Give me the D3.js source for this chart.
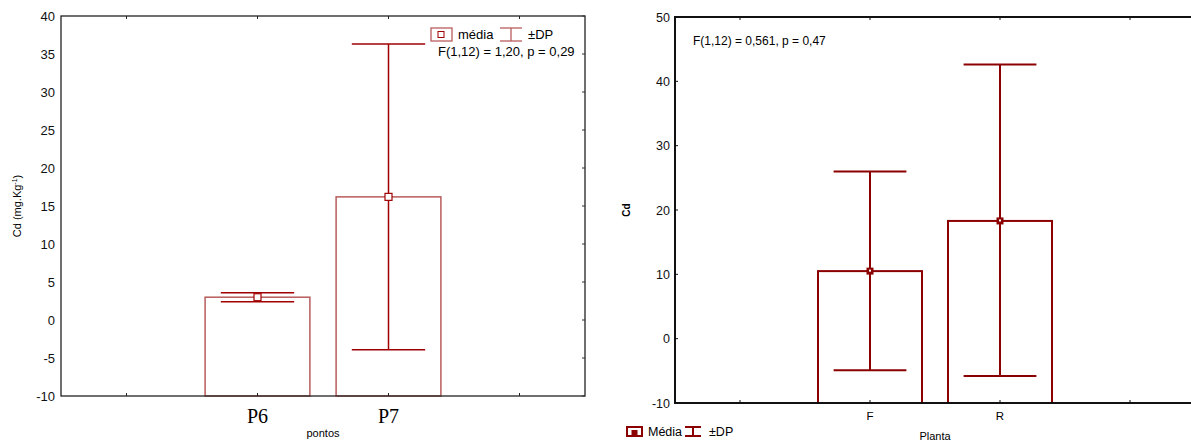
<!DOCTYPE html>
<html>
<head>
<meta charset="utf-8">
<script src="https://cdn.jsdelivr.net/npm/d3@7"></script>
<style>
  body { margin: 0; background: #fff; }
  text { font-family: Arial, "Liberation Sans", sans-serif; }
</style>
</head>
<body>
<div id="chart"></div>
<script>
// left panel: pontos
const leftCategories = ["P6", "P7"];
const leftMeans = [3.0, 16.2];
const leftSdLow = [2.4, -3.9];
const leftSdHigh = [3.6, 36.3];
const leftTicks = [-10, -5, 0, 5, 10, 15, 20, 25, 30, 35, 40];

// right panel: planta
const rightCategories = ["F", "R"];
const rightMeans = [10.5, 18.3];
const rightSdLow = [-4.9, -5.8];
const rightSdHigh = [26.0, 42.6];
const rightTicks = [-10, 0, 10, 20, 30, 40, 50];

const svg = d3.select("#chart").append("svg")
  .attr("width", 1191)
  .attr("height", 445);

drawLeft();
drawRight();

function drawLeft() {
  const X0 = 61, X1 = 585, Y0 = 16, Y1 = 396;
  const red = "#a00000", barCol = "#b85c5c";

  // category slots: one empty slot each side
  const x = d3.scaleLinear().domain([-1.5, 2.5]).range([X0, X1]);
  const y = d3.scaleLinear().domain([-10, 40]).range([Y1, Y0]);
  const slot = x(1) - x(0);
  const barW = slot * 0.8;
  const capW = slot * 0.56;

  const g = svg.append("g");

  // bars
  g.selectAll(".barL")
    .data(leftCategories)
    .enter()
    .append("rect")
    .attr("x", (d, i) => x(i) - barW / 2)
    .attr("y", (d, i) => y(leftMeans[i]))
    .attr("width", barW)
    .attr("height", (d, i) => y(-10) - y(leftMeans[i]))
    .attr("fill", "none")
    .attr("stroke", barCol)
    .attr("stroke-width", 1.5);

  // error bars
  leftCategories.forEach((c, i) => {
    const cx = x(i);
    g.append("line").attr("x1", cx).attr("x2", cx)
      .attr("y1", y(leftSdHigh[i])).attr("y2", y(leftSdLow[i]))
      .attr("stroke", red).attr("stroke-width", 1.5);
    [leftSdHigh[i], leftSdLow[i]].forEach(v => {
      g.append("line").attr("x1", cx - capW / 2).attr("x2", cx + capW / 2)
        .attr("y1", y(v)).attr("y2", y(v))
        .attr("stroke", red).attr("stroke-width", 1.5);
    });
    g.append("rect")
      .attr("x", cx - 3.5).attr("y", y(leftMeans[i]) - 3.5)
      .attr("width", 7).attr("height", 7)
      .attr("fill", "#fff").attr("stroke", red).attr("stroke-width", 1.2);
  });

  // frame
  g.append("rect").attr("x", X0).attr("y", Y0)
    .attr("width", X1 - X0).attr("height", Y1 - Y0)
    .attr("fill", "none").attr("stroke", "#222").attr("stroke-width", 1.3);

  // y axis
  const yAxis = g.append("g")
    .attr("transform", `translate(${X0},0)`)
    .call(d3.axisLeft(y).tickValues(leftTicks).tickFormat(d => String(d))
      .tickSize(0).tickPadding(6));
  yAxis.select(".domain").remove();
  yAxis.selectAll("text").attr("font-size", 13).attr("fill", "#111")
    .attr("font-family", "Arial, 'Liberation Sans', sans-serif");

  // right side inward ticks
  g.selectAll(".rt").data(leftTicks).enter().append("line")
    .attr("x1", X1 - 3).attr("x2", X1)
    .attr("y1", d => y(d)).attr("y2", d => y(d))
    .attr("stroke", "#333");

  // top / bottom ticks at slots
  [-1, 0, 1, 2].forEach(v => {
    g.append("line").attr("x1", x(v)).attr("x2", x(v))
      .attr("y1", Y0).attr("y2", Y0 + 3).attr("stroke", "#222");
    g.append("line").attr("x1", x(v)).attr("x2", x(v))
      .attr("y1", Y1 - 3).attr("y2", Y1).attr("stroke", "#222");
  });

  // category labels
  g.selectAll(".catL").data(leftCategories).enter().append("text")
    .attr("x", (d, i) => x(i)).attr("y", 423)
    .attr("text-anchor", "middle")
    .style("font-family", "'Liberation Serif', 'Times New Roman', serif")
    .attr("font-size", 20)
    .text(d => d);

  g.append("text").attr("x", (X0 + X1) / 2).attr("y", 437)
    .attr("text-anchor", "middle").attr("font-size", 11).text("pontos");

  const yl = g.append("text")
    .attr("transform", `translate(21,${(Y0 + Y1) / 2}) rotate(-90)`)
    .attr("text-anchor", "middle").attr("font-size", 11);
  yl.append("tspan").text("Cd (mg.Kg");
  yl.append("tspan").attr("font-size", 7).attr("dy", -4).text("-1");
  yl.append("tspan").attr("dy", 4).text(")");

  // legend
  g.append("rect").attr("x", 431).attr("y", 28).attr("width", 21).attr("height", 13)
    .attr("fill", "none").attr("stroke", barCol).attr("stroke-width", 1.3);
  g.append("rect").attr("x", 438).attr("y", 31.5).attr("width", 6).attr("height", 6)
    .attr("fill", "#fff").attr("stroke", red).attr("stroke-width", 1);
  g.append("text").attr("x", 458).attr("y", 39).attr("font-size", 13).text("média");
  g.append("line").attr("x1", 500).attr("x2", 522).attr("y1", 28).attr("y2", 28)
    .attr("stroke", barCol).attr("stroke-width", 1.3);
  g.append("line").attr("x1", 500).attr("x2", 522).attr("y1", 41).attr("y2", 41)
    .attr("stroke", barCol).attr("stroke-width", 1.3);
  g.append("line").attr("x1", 511).attr("x2", 511).attr("y1", 28).attr("y2", 41)
    .attr("stroke", barCol).attr("stroke-width", 1.3);
  g.append("text").attr("x", 528).attr("y", 39).attr("font-size", 13).text("±DP");
  g.append("text").attr("x", 438).attr("y", 56).attr("font-size", 13)
    .text("F(1,12) = 1,20, p = 0,29");
}

function drawRight() {
  const X0 = 675, X1 = 1195, Y0 = 17, Y1 = 403;
  const red = "#8b0000";

  const x = d3.scaleLinear().domain([-1.5, 2.5]).range([X0, X1]);
  const y = d3.scaleLinear().domain([-10, 50]).range([Y1, Y0]);
  const slot = x(1) - x(0);
  const barW = slot * 0.8;
  const capW = slot * 0.56;

  const g = svg.append("g");

  g.selectAll(".barR")
    .data(rightCategories)
    .enter()
    .append("rect")
    .attr("x", (d, i) => x(i) - barW / 2)
    .attr("y", (d, i) => y(rightMeans[i]))
    .attr("width", barW)
    .attr("height", (d, i) => y(-10) - y(rightMeans[i]))
    .attr("fill", "none")
    .attr("stroke", red)
    .attr("stroke-width", 2);

  rightCategories.forEach((c, i) => {
    const cx = x(i);
    g.append("line").attr("x1", cx).attr("x2", cx)
      .attr("y1", y(rightSdHigh[i])).attr("y2", y(rightSdLow[i]))
      .attr("stroke", red).attr("stroke-width", 2);
    [rightSdHigh[i], rightSdLow[i]].forEach(v => {
      g.append("line").attr("x1", cx - capW / 2).attr("x2", cx + capW / 2)
        .attr("y1", y(v)).attr("y2", y(v))
        .attr("stroke", red).attr("stroke-width", 2);
    });
    g.append("rect")
      .attr("x", cx - 3.5).attr("y", y(rightMeans[i]) - 3.5)
      .attr("width", 7).attr("height", 7)
      .attr("fill", red);
    g.append("rect")
      .attr("x", cx - 1).attr("y", y(rightMeans[i]) - 1.5)
      .attr("width", 2).attr("height", 2)
      .attr("fill", "#fff");
  });

  // frame
  g.append("rect").attr("x", X0).attr("y", Y0)
    .attr("width", X1 - X0).attr("height", Y1 - Y0)
    .attr("fill", "none").attr("stroke", "#111").attr("stroke-width", 2);

  const yAxis = g.append("g")
    .attr("transform", `translate(${X0},0)`)
    .call(d3.axisLeft(y).tickValues(rightTicks).tickFormat(d => String(d))
      .tickSize(0).tickPadding(5));
  yAxis.select(".domain").remove();
  yAxis.selectAll("text").attr("font-size", 12.5).attr("fill", "#111")
    .attr("font-family", "Arial, 'Liberation Sans', sans-serif");

  g.selectAll(".lt").data(rightTicks).enter().append("line")
    .attr("x1", X0).attr("x2", X0 + 3)
    .attr("y1", d => y(d)).attr("y2", d => y(d))
    .attr("stroke", "#111");

  [-1, 0, 1, 2].forEach(v => {
    g.append("line").attr("x1", x(v)).attr("x2", x(v))
      .attr("y1", Y0).attr("y2", Y0 + 3).attr("stroke", "#111");
    g.append("line").attr("x1", x(v)).attr("x2", x(v))
      .attr("y1", Y1 - 3).attr("y2", Y1).attr("stroke", "#111");
  });

  g.selectAll(".catR").data(rightCategories).enter().append("text")
    .attr("x", (d, i) => x(i)).attr("y", 420)
    .attr("text-anchor", "middle").attr("font-size", 11.5)
    .text(d => d);

  g.append("text").attr("x", (X0 + X1) / 2).attr("y", 440)
    .attr("text-anchor", "middle").attr("font-size", 11).text("Planta");

  g.append("text")
    .attr("transform", `translate(630,${(Y0 + Y1) / 2}) rotate(-90)`)
    .attr("text-anchor", "middle").attr("font-size", 10)
    .attr("font-weight", "bold").text("Cd");

  g.append("text").attr("x", 693).attr("y", 45).attr("font-size", 12)
    .text("F(1,12) = 0,561, p = 0,47");

  // legend
  g.append("rect").attr("x", 627).attr("y", 427).attr("width", 15).attr("height", 9)
    .attr("fill", "none").attr("stroke", red).attr("stroke-width", 2);
  g.append("rect").attr("x", 631.5).attr("y", 430).attr("width", 6).attr("height", 6)
    .attr("fill", red);
  g.append("text").attr("x", 648).attr("y", 436).attr("font-size", 12.5).text("Média");
  g.append("line").attr("x1", 685).attr("x2", 701).attr("y1", 427).attr("y2", 427)
    .attr("stroke", red).attr("stroke-width", 2);
  g.append("line").attr("x1", 685).attr("x2", 701).attr("y1", 436).attr("y2", 436)
    .attr("stroke", red).attr("stroke-width", 2);
  g.append("line").attr("x1", 693).attr("x2", 693).attr("y1", 427).attr("y2", 436)
    .attr("stroke", red).attr("stroke-width", 2);
  g.append("text").attr("x", 709).attr("y", 436).attr("font-size", 12.5).text("±DP");
}
</script>
</body>
</html>
